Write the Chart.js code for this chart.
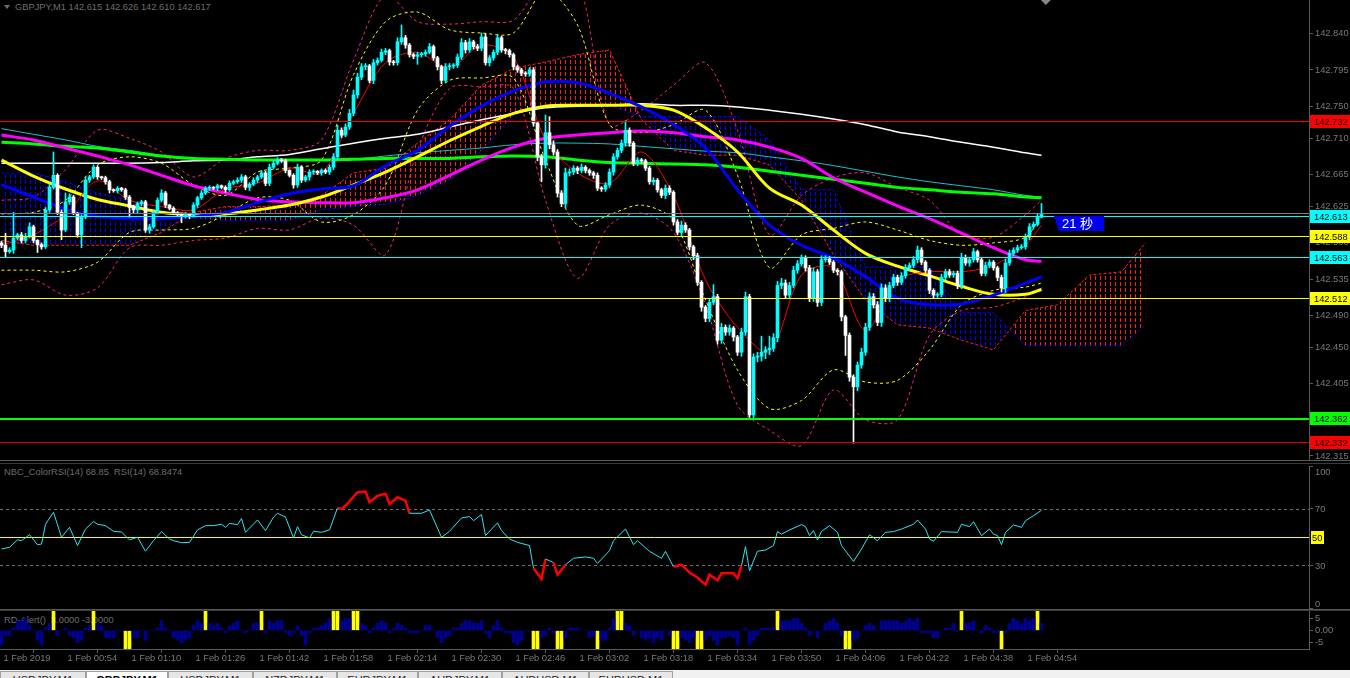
<!DOCTYPE html>
<html>
<head>
<meta charset="utf-8">
<title>GBPJPY,M1</title>
<script src="https://cdn.jsdelivr.net/npm/chart.js@4.4.1/dist/chart.umd.min.js"></script>
<style>
  body { margin:0; background:#000; width:1350px; height:678px; overflow:hidden; position:relative; font-family:"Liberation Sans", Arial, sans-serif; }
  canvas { position:absolute; left:0; }
  .txt { position:absolute; color:#6e6e6e; font-size:9.3px; white-space:pre; }
  .sep { position:absolute; left:0; width:1350px; height:1px; }
  #tabs { position:absolute; left:0; top:670px; width:1350px; height:8px; background:#f0f0f0; overflow:hidden; }
  .tab { position:absolute; top:1px; height:12px; border:1px solid #a0a0a0; border-bottom:none; box-sizing:border-box; font-size:11px; color:#222; text-align:center; padding-top:2px; background:#e6e6e6; }
  .tab.on { background:#fff; font-weight:bold; color:#000; }
</style>
</head>
<body>
<div class="txt" style="left:15px;top:2px">GBPJPY,M1 142.615 142.626 142.610 142.617</div>
<div style="position:absolute;left:4px;top:5px;width:0;height:0;border-left:3px solid transparent;border-right:3px solid transparent;border-top:4px solid #6e6e6e"></div>
<canvas id="mainChart" width="1350" height="460" style="top:0"></canvas>
<div class="sep" style="top:460px;background:#5a5a5a"></div>
<div class="sep" style="top:463px;background:#3a3a3a"></div>
<div class="txt" style="left:4px;top:467px">NBC_ColorRSI(14) 68.85  RSI(14) 68.8474</div>
<canvas id="rsiChart" width="1350" height="145" style="top:464px"></canvas>
<div class="sep" style="top:609px;background:#5a5a5a"></div>
<div class="sep" style="top:610px;background:#3a3a3a"></div>
<div class="txt" style="left:4px;top:615px">RD-Alert()  3.0000 -3.0000</div>
<canvas id="alertChart" width="1350" height="57" style="top:611px"></canvas>
<div id="tabs"></div>

<script>
// prices are kept in points above 142.000
const BASE = 142;
const toPrice = v => BASE + v / 1000;

const firstOpen = 580;
const closes = [
  577,569,571,586,590,583,588,600,583,578,
  575,621,649,664,618,596,631,637,617,590,
  612,658,662,674,662,661,656,646,645,648,
  646,637,624,621,629,631,596,600,618,633,
  642,627,623,617,616,614,616,614,627,636,
  642,648,649,648,651,649,646,654,656,658,
  662,649,653,658,662,667,654,674,679,683,
  682,670,664,652,674,658,662,668,669,667,
  670,668,674,687,720,714,724,741,764,786,
  799,800,782,804,807,817,819,805,804,830,
  835,826,814,812,814,815,817,824,810,799,
  782,799,800,801,811,829,820,830,824,822,
  836,804,810,817,835,820,819,814,799,795,
  791,790,795,729,687,677,717,702,693,642,
  629,667,668,673,670,674,670,667,664,648,
  647,652,668,687,695,704,720,704,679,683,
  682,673,656,658,646,639,648,643,606,593,
  602,596,575,564,531,500,486,506,513,459,
  475,469,474,463,444,469,513,366,438,439,
  444,447,449,462,527,530,515,527,546,554,
  561,549,511,544,506,559,560,556,546,544,
  488,465,413,401,428,444,475,513,503,481,
  524,511,527,537,531,539,549,552,559,571,
  556,546,521,515,516,537,544,540,542,527,
  562,555,559,569,559,542,552,556,549,537,
  524,555,567,571,574,575,587,600,603,612,
  617
];
const wickUp = [
  2,15,3,32,2,3,4,5,2,1, 2,3,4,29,2,3,11,4,2,1, 3,4,2,3,2,1,2,2,1,2,
  1,2,2,3,2,2,2,3,2,3, 4,2,1,2,2,1,2,1,3,2, 3,2,2,1,2,1,2,3,2,3,
  3,2,2,3,2,3,2,4,3,3, 2,2,1,2,4,2,2,3,2,1, 2,2,3,4,6,3,4,5,6,5,
  4,3,2,4,3,4,3,2,2,5, 16,3,2,2,3,2,3,4,2,2, 2,4,3,2,4,5,3,4,2,3,
  5,4,3,3,4,2,2,2,2,2, 2,2,3,3,2,3,22,20,5,3, 3,6,4,3,2,4,2,2,2,3,
  2,3,4,4,3,4,12,3,2,3, 2,2,2,3,2,2,4,3,2,3, 5,3,2,2,3,2,2,5,15,3,
  5,3,4,2,2,5,6,3,4,5, 20,4,15,5,5,6,4,4,5,4, 4,3,3,5,3,5,4,3,2,2,
  2,2,3,3,4,5,5,5,4,4, 5,4,4,4,3,4,4,3,4,5, 3,2,2,2,2,4,3,3,3,3,
  5,3,3,4,2,3,4,3,2,2, 3,5,4,3,3,3,4,4,3,4, 12
];
const wickDn = [
  3,7,2,4,2,3,3,2,3,10, 3,2,3,2,3,12,2,3,2,3, 16,2,3,2,3,2,3,4,2,3,
  2,3,12,4,4,3,3,4,2,2, 2,3,2,2,3,9,3,4,2,3, 2,2,3,2,3,2,3,2,2,2,
  3,3,4,2,3,2,3,3,2,2, 2,3,2,4,3,3,2,4,3,2, 3,2,3,3,4,3,2,3,3,4,
  3,4,3,4,3,2,3,4,3,3, 3,4,3,3,10,3,3,2,3,4, 4,3,4,3,3,3,4,3,3,3,
  3,3,4,3,3,3,4,3,4,3, 3,3,3,4,5,21,4,5,4,5, 4,5,4,3,4,3,3,3,4,3,
  3,3,3,4,3,3,4,4,3,3, 3,3,3,4,3,3,4,3,4,3, 4,3,4,5,4,5,4,4,3,5,
  4,4,4,5,4,5,4,3,4,6, 6,8,6,4,5,4,4,4,3,4, 3,4,4,4,5,4,3,3,3,4,
  5,25,5,70,5,4,4,4,4,4, 5,4,4,3,4,3,3,3,3,4, 3,3,4,4,3,3,3,3,3,4,
  4,3,4,3,3,3,3,3,3,4, 5,6,3,3,3,2,3,3,3,2, 1
];

// indicator lines, read every 8 bars
const lineIdx = [0,8,16,24,32,40,48,56,64,72,80,88,96,104,112,120,128,136,144,152,160,168,176,184,192,200,208,216,224,232,240,248,256,260];
const maWhite   = [679,679,679,679,679,680,682,683,687,690,697,704,710,715,724,733,741,748,750,751,753,751,751,749,745,740,734,727,718,712,705,699,692,689];
const maTeal    = [722,715,708,700,695,689,685,683,683,683,683,684,688,692,695,698,702,704,704,703,700,697,694,692,687,682,676,669,662,656,651,646,639,637];
const maGreen   = [705,703,700,698,693,688,685,684,683,683,683,684,685,685,685,687,688,687,683,680,679,678,677,674,669,664,659,654,649,646,643,641,637,636];
const maMagenta = [714,708,698,688,677,664,651,642,634,631,630,630,636,646,664,683,699,710,714,717,719,717,712,708,699,685,661,643,626,610,592,574,559,557];
const maBlue    = [652,637,622,613,610,610,613,618,630,641,647,651,676,695,725,750,769,780,779,766,749,727,698,646,602,577,561,538,511,503,504,515,530,538];
const maYellow  = [683,663,647,634,626,618,615,616,621,627,637,652,668,687,707,725,741,750,751,751,751,745,723,693,648,627,596,567,551,539,526,516,516,522];
const maRed     = [577,590,615,657,633,625,621,647,654,673,667,741,804,817,797,826,811,708,667,654,693,639,534,475,444,540,549,471,534,544,544,552,577,602];
const bbYellowUp = [616,618,633,677,687,679,652,639,668,673,683,789,855,867,845,841,841,894,851,727,717,727,745,664,549,590,598,606,596,583,577,580,587,615];
const bbYellowDn = [546,546,544,556,593,596,598,615,636,633,606,615,652,745,782,785,785,683,602,615,627,608,509,422,374,384,422,407,409,447,503,521,525,530];
const bbPinkUp   = [633,637,671,720,710,693,662,685,695,695,708,807,888,855,852,855,857,907,907,727,745,776,804,720,590,639,661,667,649,633,590,587,615,633];
const bbPinkDn   = [528,534,515,524,574,577,583,586,598,596,611,602,565,695,772,774,772,633,536,602,617,593,503,378,347,328,397,360,360,465,496,500,513,524];

// ichimoku cloud, shifted 26 bars ahead
const cloudIdx = [0,8,16,24,32,40,48,56,64,72,80,88,96,104,112,120,128,136,144,152,160,168,176,184,192,200,208,216,224,232,240,248,256,264,272,280,286];
const spanA = [583,577,577,577,577,593,618,625,625,627,639,667,673,704,733,776,797,805,814,820,733,695,689,689,677,633,565,509,478,474,459,447,496,503,540,544,580];
const spanB = [667,667,656,642,633,618,611,608,607,608,621,625,628,639,658,695,739,751,751,751,737,737,737,737,708,646,646,550,550,550,493,493,452,452,452,452,478];

const mainTicks = [142.840,142.795,142.750,142.710,142.665,142.625,142.580,142.535,142.490,142.450,142.405,142.360,142.315];
const levelPrices = [142.732,142.617,142.613,142.588,142.563,142.512,142.362,142.332];
const levelColors = ['#ff0000','#808080','#00ffff','#ffff00','#00ffff','#ffff00','#00ff00','#dd0000'];
const levelWidths = [1,1,1,1,1,1,2,1];
const levelTagged = [true,false,true,true,true,true,true,true];
const timerText = '21 秒';

// RSI(14)
const rsiIdx = [0,2,4,5,7,9,10,11,13,15,17,19,21,23,24,26,28,30,32,34,36,38,40,42,43,45,47,49,51,53,55,56,57,59,60,61,64,66,68,69,71,73,74,75,77,78,80,82,83,84,85,86,89,91,92,94,96,97,99,101,102,105,107,110,112,115,117,118,120,121,124,125,127,129,132,133,135,136,138,139,141,143,146,148,149,152,153,156,158,159,162,165,166,168,170,172,174,176,177,179,180,183,184,185,186,187,189,191,193,194,195,197,200,201,202,203,204,205,207,209,210,213,215,217,219,221,223,225,228,229,231,232,233,235,239,240,242,243,245,247,248,249,250,251,253,255,256,258,260];
const rsiVal = [41.6,42.7,48,47.4,51.6,44.6,45,59,67.4,49.8,56.8,44,55.6,61,59,58,54,53.5,48,49.8,40,47.4,53.8,48.6,47.4,46,46.2,55,58,58,59,56.8,59.6,58.7,63,53.3,62,54.5,64,66.7,64,49.3,57.3,51.6,49.3,54,53.3,55,62.7,70.5,69.8,72,81.5,82,74.5,79,80.4,73.3,78,75.6,66.7,66.7,69,49.8,54,63.4,64.4,61.5,65.8,51,60,54.5,48.6,46.2,44,28,20.4,34.5,32,23.4,30.5,35,36,35,31.4,40.4,47.4,55.6,44.6,47.4,39.9,35,39.9,29,30.5,25,21.5,16.4,23.4,19.6,24.4,24.4,21,29.8,43.2,26.2,40,40.8,44,53.8,52,55,58.7,57.3,51,54.5,47.9,54,58,53.3,44,32.8,41.5,51.6,47.4,53.3,53.8,55.6,59,62,55.6,48.6,47,53.8,53.3,59,57.3,60.8,51,55.6,52,51,44.6,53.3,58.5,56.8,61.5,65,68.85];
const rsiLevels = [70, 50, 30];
const rsiTicks = [100, 70, 30, 0];

// RD-Alert histogram
const alertVal = [
  -6,-2,-2,1,4,4,5,2,0,-4, -6,1,3,0,-2,0,1,-2,-3,-5, -4,1,2,0,3,2,-3,-3,-3,0,
  0,0,0,-3,-3,0,-4,0,0,1, 4,1,0,-3,-4,-5,-4,-3,2,4, 3,0,3,2,3,1,-1,2,3,4,
  0,-1,0,3,3,0,-1,4,3,4, 4,-1,-2,-1,2,-2,-6,-1,1,1, 2,3,5,0,0,4,5,5,0,0,
  3,2,-1,1,3,4,3,-1,1,3, 2,1,-1,-1,-1,0,2,2,0,-3, -5,-3,-2,1,1,3,4,4,3,3,
  4,-1,-3,2,4,1,-1,-1,-5,-6, -4,0,0,0,0,-3,-2,1,-1,0, 0,-3,1,1,1,0,0,-3,-2,0,
  -4,-4,1,5,0,0,3,2,-2,0, -3,-4,-3,-5,-3,-4,0,-2,0,0, -3,-4,-5,-3,0,0,-4,-2,-4,-6,
  -3,-3,-2,-3,-6,0,1,-6,-4,-2, 1,1,1,1,0,4,4,4,5,5, 3,1,-2,0,-3,0,3,4,5,3,
  -2,0,0,-4,-3,0,2,3,2,0, 4,4,4,4,4,3,4,5,4,5, -1,-1,-1,-3,-3,0,1,1,3,0,
  0,3,3,4,0,-1,2,1,-1,-1, 0,-1,3,5,4,3,5,4,5,0, 3
];
const alertUp = [13,23,51,65,83,84,88,89,154,155,194,240,259];
const alertDn = [31,32,133,134,139,140,149,168,169,174,175,211,212,250];
const sigHigh = 8, sigLow = -8;
const alertTicks = [5, 0, -5];

const timeLabels = ['1 Feb 2019','1 Feb 00:54','1 Feb 01:10','1 Feb 01:26','1 Feb 01:42','1 Feb 01:58','1 Feb 02:14','1 Feb 02:30','1 Feb 02:46','1 Feb 03:02','1 Feb 03:18','1 Feb 03:34','1 Feb 03:50','1 Feb 04:06','1 Feb 04:22','1 Feb 04:38','1 Feb 04:54'];
const tabNames = ['USDJPY,M1','GBPJPY,M1','USDJPY,M1','NZDJPY,M1','EURJPY,M1','AUDJPY,M1','AUDUSD,M1','EURUSD,M1'];

// ---------- helpers ----------
const FONT = 'Liberation Sans';
const FSIZE = 9.3;
const AXIS_GREY = '#5a5a5a';
const LABEL_GREY = '#7a7a7a';
Chart.defaults.font.family = FONT;
Chart.defaults.font.size = FSIZE;

const X_RANGE = { type: 'linear', min: -0.375, max: 326.875, offset: false };

function rightAxis(extra) {
  return Object.assign({
    position: 'right',
    afterFit(s) { s.width = 41; s.paddingTop = 0; s.paddingBottom = 0; },
    ticks: { color: LABEL_GREY, padding: 2, font: { size: FSIZE } },
    grid: { drawOnChartArea: false, drawTicks: true, tickLength: 4, color: AXIS_GREY },
    border: { color: AXIS_GREY }
  }, extra);
}

function pts(idx, vals) {
  return idx.map((i, k) => ({ x: i, y: toPrice(vals[k]) }));
}
function lineDs(data, color, width, order, extra) {
  return Object.assign({ type: 'line', data, borderColor: color, borderWidth: width, pointRadius: 0,
    tension: 0.35, fill: false, order }, extra);
}
function hatch(color) {
  const c = document.createElement('canvas');
  c.width = 5; c.height = 6;
  const g = c.getContext('2d');
  g.fillStyle = color;
  g.fillRect(0, 0, 1, 4);
  return g.createPattern(c, 'repeat');
}

// ---------- candles ----------
const bodies = [], wicks = [], candleColors = [];
closes.forEach((c, i) => {
  const o = i === 0 ? firstOpen : closes[i - 1];
  const up = c > o;
  bodies.push({ x: i, y: [toPrice(o), toPrice(c)] });
  wicks.push({ x: i, y: [toPrice(Math.min(o, c) - wickDn[i]), toPrice(Math.max(o, c) + wickUp[i])] });
  candleColors.push(up ? '#00ffff' : '#ffffff');
});

// ---------- main pane ----------
const levelPlugin = {
  id: 'levels',
  afterDatasetsDraw(chart) {
    const { ctx, chartArea, scales: { y } } = chart;
    ctx.save();
    levelPrices.forEach((p, k) => {
      const py = Math.round(y.getPixelForValue(p));
      ctx.fillStyle = levelColors[k];
      ctx.fillRect(chartArea.left, py, chartArea.right - chartArea.left, levelWidths[k]);
    });
    ctx.restore();
  },
  afterDraw(chart) {
    const { ctx, chartArea, scales: { x, y } } = chart;
    ctx.save();
    ctx.font = FSIZE + 'px ' + FONT;
    ctx.textBaseline = 'middle';
    levelPrices.forEach((p, k) => {
      if (!levelTagged[k]) return;
      const py = Math.round(y.getPixelForValue(p));
      ctx.fillStyle = levelColors[k] === '#dd0000' ? '#ff0000' : levelColors[k];
      ctx.fillRect(chartArea.right + 1, py - 6, 40, 13);
      ctx.fillStyle = '#000';
      ctx.fillText(p.toFixed(3), chartArea.right + 5, py + 1);
    });
    // bar timer tag on the 142.613 line
    const tx = Math.round(x.getPixelForValue(263));
    const ty = Math.round(y.getPixelForValue(levelPrices[2]));
    ctx.fillStyle = '#0000ee';
    ctx.beginPath();
    ctx.moveTo(tx, ty);
    ctx.lineTo(tx + 50, ty);
    ctx.lineTo(tx + 50, ty + 15);
    ctx.lineTo(tx + 5, ty + 15);
    ctx.closePath();
    ctx.fill();
    ctx.fillStyle = '#ffffff';
    ctx.font = '13px "Liberation Sans", "Noto Sans CJK JP", sans-serif';
    ctx.fillText(timerText, tx + 8, ty + 8);
    // chart shift marker
    const sx = x.getPixelForValue(261.1);
    ctx.fillStyle = '#808890';
    ctx.beginPath();
    ctx.moveTo(sx - 5, 0);
    ctx.lineTo(sx + 5, 0);
    ctx.lineTo(sx, 5);
    ctx.closePath();
    ctx.fill();
    ctx.restore();
  }
};

const redHatch = hatch('#ff1a1a');
const blueHatch = hatch('#0000ff');
const dash = { borderDash: [3, 3], tension: 0.3 };

const mainSets = [
  { type: 'bar', data: bodies, backgroundColor: candleColors, barThickness: 3, grouped: false, minBarLength: 1, order: 0 },
  { type: 'bar', data: wicks, backgroundColor: candleColors, barThickness: 1, grouped: false, order: 1 },
  lineDs(pts(lineIdx, maRed), '#ff0000', 1, 2, { tension: 0.3 }),
  lineDs(pts(lineIdx, maBlue), '#0000ff', 3, 3),
  lineDs(pts(lineIdx, maYellow), '#ffff00', 3, 4),
  lineDs(pts(lineIdx, maMagenta), '#ff00ff', 3, 5),
  lineDs(pts(lineIdx, maGreen), '#00ff00', 3, 6),
  lineDs(pts(lineIdx, maWhite), '#ffffff', 1.5, 7),
  lineDs(pts(lineIdx, maTeal), '#20c0c8', 1, 8),
  lineDs(pts(lineIdx, bbYellowUp), '#ffff00', 1, 9, dash),
  lineDs(pts(lineIdx, bbYellowDn), '#ffff00', 1, 9, dash),
  lineDs(pts(lineIdx, bbPinkUp), '#ff2075', 1, 9, dash),
  lineDs(pts(lineIdx, bbPinkDn), '#ff2075', 1, 9, dash)
];
const spanBIndex = mainSets.length + 1;
mainSets.push(lineDs(pts(cloudIdx, spanA), '#ff2020', 1, 10,
  { tension: 0, borderDash: [3, 2], fill: { target: spanBIndex, above: redHatch, below: blueHatch } }));
mainSets.push(lineDs(pts(cloudIdx, spanB), '#0000ff', 1, 10, { tension: 0, borderDash: [3, 2] }));

new Chart(document.getElementById('mainChart'), {
  type: 'line',
  data: { datasets: mainSets },
  options: {
    responsive: false,
    animation: false,
    layout: { padding: 0 },
    plugins: { legend: { display: false }, tooltip: { enabled: false } },
    scales: {
      x: Object.assign({ display: false }, X_RANGE),
      y: rightAxis({
        min: 142.310, max: 142.882,
        afterBuildTicks(s) { s.ticks = mainTicks.map(v => ({ value: v })); },
        ticks: { color: LABEL_GREY, padding: 2, font: { size: FSIZE }, callback: v => v.toFixed(3) }
      })
    }
  },
  plugins: [levelPlugin]
});

// ---------- RSI pane ----------
const inZone = c => {
  const m = (c.p0.parsed.y + c.p1.parsed.y) / 2;
  return m > 70 || m < 30;
};
const rsiPlugin = {
  id: 'rsiLevels',
  beforeDatasetsDraw(chart) {
    const { ctx, chartArea, scales: { y } } = chart;
    ctx.save();
    rsiLevels.forEach(v => {
      const py = Math.round(y.getPixelForValue(v)) + 0.5;
      ctx.strokeStyle = v === 50 ? '#ffff00' : '#707070';
      ctx.setLineDash(v === 50 ? [] : [3, 3]);
      ctx.lineWidth = 1;
      ctx.beginPath();
      ctx.moveTo(chartArea.left, py);
      ctx.lineTo(chartArea.right, py);
      ctx.stroke();
    });
    ctx.restore();
  },
  afterDraw(chart) {
    const { ctx, chartArea, scales: { y } } = chart;
    ctx.save();
    ctx.font = FSIZE + 'px ' + FONT;
    ctx.textBaseline = 'middle';
    // scale labels, kept inside the pane like the terminal does
    rsiTicks.forEach(v => {
      const py = Math.min(Math.max(y.getPixelForValue(v), chartArea.top + 5), chartArea.bottom - 5);
      ctx.fillStyle = LABEL_GREY;
      ctx.fillText(String(v), chartArea.right + 6, py + 1);
    });
    const py = Math.round(y.getPixelForValue(50));
    ctx.fillStyle = '#ffff00';
    ctx.fillRect(chartArea.right + 2, py - 6, 13, 13);
    ctx.fillStyle = '#000';
    ctx.fillText('50', chartArea.right + 3, py + 1);
    ctx.restore();
  }
};

new Chart(document.getElementById('rsiChart'), {
  type: 'line',
  data: { datasets: [{
    data: rsiIdx.map((i, k) => ({ x: i, y: rsiVal[k] })),
    borderColor: '#30e4f0', borderWidth: 1, pointRadius: 0, tension: 0,
    segment: {
      borderColor: c => inZone(c) ? '#ff0000' : '#30e4f0',
      borderWidth: c => inZone(c) ? 2.5 : 1
    }
  }] },
  options: {
    responsive: false,
    animation: false,
    layout: { padding: { top: 2, bottom: 1 } },
    plugins: { legend: { display: false }, tooltip: { enabled: false } },
    scales: {
      x: Object.assign({ display: false }, X_RANGE),
      y: rightAxis({
        min: 0, max: 100,
        afterBuildTicks(s) { s.ticks = rsiTicks.map(v => ({ value: v })); },
        ticks: { display: false }
      })
    }
  },
  plugins: [rsiPlugin]
});

// ---------- RD-Alert pane ----------
new Chart(document.getElementById('alertChart'), {
  type: 'bar',
  data: { datasets: [
    { data: alertVal.map((v, i) => ({ x: i, y: v })), backgroundColor: '#000090', barThickness: 3, grouped: false },
    { data: alertUp.map(i => ({ x: i, y: sigHigh })).concat(alertDn.map(i => ({ x: i, y: sigLow }))),
      backgroundColor: '#ffff00', barThickness: 3, grouped: false }
  ] },
  options: {
    responsive: false,
    animation: false,
    layout: { padding: 0 },
    plugins: { legend: { display: false }, tooltip: { enabled: false } },
    scales: {
      x: Object.assign({
        afterBuildTicks(s) { s.ticks = timeLabels.map((t, k) => ({ value: k * 16 })); },
        afterFit(s) { s.height = 19; s.paddingLeft = 0; s.paddingRight = 0; },
        ticks: { color: LABEL_GREY, font: { size: FSIZE }, align: 'start', labelOffset: 2, padding: 0,
          maxRotation: 0, autoSkip: false, callback: (v, k) => timeLabels[k] },
        grid: { drawOnChartArea: false, drawTicks: true, tickLength: 4, color: AXIS_GREY },
        border: { color: AXIS_GREY }
      }, X_RANGE),
      y: rightAxis({
        min: -7.6, max: 8,
        afterBuildTicks(s) { s.ticks = alertTicks.map(v => ({ value: v })); },
        ticks: { color: LABEL_GREY, padding: 2, font: { size: FSIZE }, callback: v => v === 0 ? '0.00' : String(v) }
      })
    }
  }
});

// ---------- tab bar ----------
const tabEdges = [0, 86, 168, 253, 337, 418, 502, 589, 673];
const tabs = document.getElementById('tabs');
tabNames.forEach((name, k) => {
  const t = document.createElement('div');
  t.className = 'tab' + (k === 1 ? ' on' : '');
  t.style.left = tabEdges[k] + 'px';
  t.style.width = (tabEdges[k + 1] - tabEdges[k]) + 'px';
  t.textContent = name;
  tabs.appendChild(t);
});
</script>
</body>
</html>
